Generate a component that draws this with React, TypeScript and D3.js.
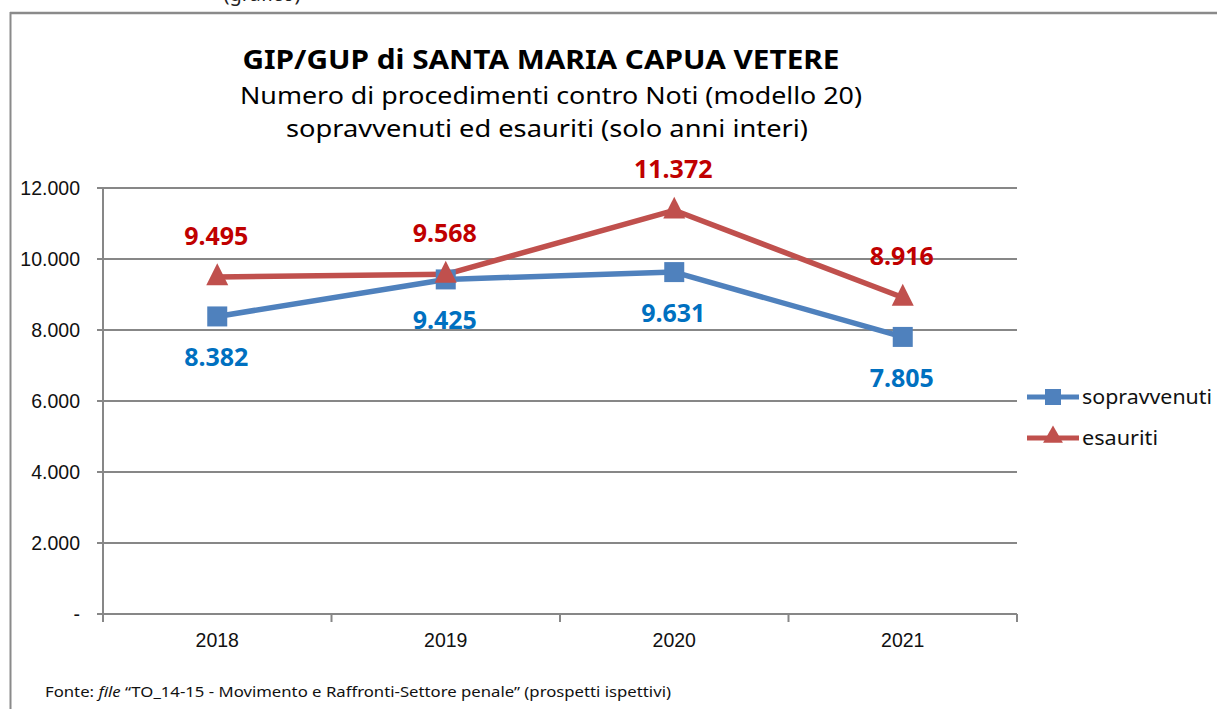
import * as d3 from "d3";

const years = ["2018", "2019", "2020", "2021"];
const sopravvenuti = [8382, 9425, 9631, 7805];
const esauriti = [9495, 9568, 11372, 8916];
const yTicks = [0, 2000, 4000, 6000, 8000, 10000, 12000];

const W = 1217;
const H = 709;
const margin = { left: 103, right: 200, top: 188, bottom: 95 };

const BLUE = "#4F81BD";
const RED = "#C0504D";
const BLUE_LABEL = "#0070C0";
const RED_LABEL = "#C00000";
const GRID = "#878787";

const fmt = (v: number) => (v === 0 ? "-" : d3.format(",")(v).replace(/,/g, "."));

export default function App() {
	const x = d3.scaleBand<string>().domain(years).range([margin.left, W - margin.right]).padding(0);
	const y = d3.scaleLinear().domain([0, 12000]).range([H - margin.bottom, margin.top]);
	const cx = (yr: string) => (x(yr) as number) + x.bandwidth() / 2;

	const line = d3
		.line<number>()
		.x((_, i) => cx(years[i]))
		.y((d) => y(d));

	const tri = d3.symbol(d3.symbolTriangle, 210)();
	const triSmall = d3.symbol(d3.symbolTriangle, 170)();

	const boundaries = [...years.map((yr) => x(yr) as number), W - margin.right];
	const x0 = margin.left;
	const x1 = W - margin.right;

	const axisFont = "'Liberation Sans', Arial, sans-serif";
	const labelFont = "'Noto Sans', 'Open Sans', sans-serif";

	return (
		<div style={{ position: "absolute", left: 0, top: 0 }}>
			<svg width={W} height={H} style={{ display: "block", background: "#fff" }}>
				{/* caption above the frame, mostly cut off */}
				<text x={262} y={1} fontFamily={labelFont} fontSize={20} textAnchor="middle" fill="#222">
					(grafico)
				</text>
				{/* frame */}
				<line x1={10} x2={W} y1={13} y2={13} stroke="#8a8a8a" strokeWidth={2.5} />
				<line x1={10.5} x2={10.5} y1={12} y2={H} stroke="#8a8a8a" strokeWidth={2} />

				{/* titles */}
				<text
					x={541}
					y={69}
					textAnchor="middle"
					fontFamily={labelFont}
					fontWeight="bold"
					fontSize={26}
					textLength={597}
					lengthAdjust="spacingAndGlyphs"
					fill="#000"
				>
					GIP/GUP di SANTA MARIA CAPUA VETERE
				</text>
				<text
					x={551}
					y={104}
					textAnchor="middle"
					fontFamily={labelFont}
					fontSize={24}
					textLength={622}
					lengthAdjust="spacingAndGlyphs"
					fill="#000"
				>
					Numero di procedimenti contro Noti (modello 20)
				</text>
				<text
					x={547}
					y={137}
					textAnchor="middle"
					fontFamily={labelFont}
					fontSize={24}
					textLength={522}
					lengthAdjust="spacingAndGlyphs"
					fill="#000"
				>
					sopravvenuti ed esauriti (solo anni interi)
				</text>

				{/* grid + y axis */}
				{yTicks.map((t) => (
					<g key={t}>
						<line x1={x0 - 6} x2={x1} y1={y(t)} y2={y(t)} stroke={GRID} strokeWidth={2} />
						<text
							x={80}
							y={y(t)}
							dy="0.35em"
							textAnchor="end"
							fontFamily={axisFont}
							fontSize={19.5}
							fill="#111"
						>
							{fmt(t)}
						</text>
					</g>
				))}
				<line x1={x0} x2={x0} y1={y(12000)} y2={y(0) + 8} stroke={GRID} strokeWidth={2} />
				{boundaries.map((b, i) => (
					<line key={i} x1={b} x2={b} y1={y(0)} y2={y(0) + 8} stroke={GRID} strokeWidth={2} />
				))}
				{years.map((yr) => (
					<text
						key={yr}
						x={cx(yr)}
						y={647}
						textAnchor="middle"
						fontFamily={axisFont}
						fontSize={19.5}
						fill="#111"
					>
						{yr}
					</text>
				))}

				{/* series */}
				<path d={line(esauriti) || ""} fill="none" stroke={RED} strokeWidth={5.5} strokeLinejoin="round" />
				<path d={line(sopravvenuti) || ""} fill="none" stroke={BLUE} strokeWidth={5.5} strokeLinejoin="round" />
				{sopravvenuti.map((v, i) => (
					<rect key={i} x={cx(years[i]) - 10} y={y(v) - 10} width={20} height={20} fill={BLUE} />
				))}
				{esauriti.map((v, i) => (
					<path
						key={i}
						d={tri || ""}
						transform={`translate(${cx(years[i])},${y(v) + 1}) scale(1,1.15)`}
						fill={RED}
					/>
				))}

				{/* data labels */}
				{esauriti.map((v, i) => (
					<text
						key={i}
						x={cx(years[i]) - 1}
						y={y(v) - 32}
						textAnchor="middle"
						fontFamily={labelFont}
						fontWeight="bold"
						fontSize={25}
						fill={RED_LABEL}
					>
						{fmt(v)}
					</text>
				))}
				{sopravvenuti.map((v, i) => (
					<text
						key={i}
						x={cx(years[i]) - 1}
						y={y(v) + 50}
						textAnchor="middle"
						fontFamily={labelFont}
						fontWeight="bold"
						fontSize={25}
						fill={BLUE_LABEL}
					>
						{fmt(v)}
					</text>
				))}

				{/* legend */}
				<line x1={1027} x2={1079} y1={397} y2={397} stroke={BLUE} strokeWidth={5} />
				<rect x={1045} y={389} width={16} height={16} fill={BLUE} />
				<text
					x={1082}
					y={404}
					fontFamily={labelFont}
					fontSize={20}
					textLength={130}
					lengthAdjust="spacingAndGlyphs"
					fill="#111"
				>
					sopravvenuti
				</text>
				<line x1={1027} x2={1079} y1={438} y2={438} stroke={RED} strokeWidth={5} />
				<path d={triSmall || ""} transform="translate(1053,437)" fill={RED} />
				<text
					x={1082}
					y={445}
					fontFamily={labelFont}
					fontSize={20}
					textLength={76}
					lengthAdjust="spacingAndGlyphs"
					fill="#111"
				>
					esauriti
				</text>

				{/* source */}
				<text
					x={45}
					y={697}
					fontFamily={labelFont}
					fontSize={14}
					textLength={626}
					lengthAdjust="spacingAndGlyphs"
					fill="#111"
				>
					Fonte: <tspan fontStyle="italic">file</tspan> “TO_14-15 - Movimento e Raffronti-Settore penale” (prospetti ispettivi)
				</text>
			</svg>
		</div>
	);
}
